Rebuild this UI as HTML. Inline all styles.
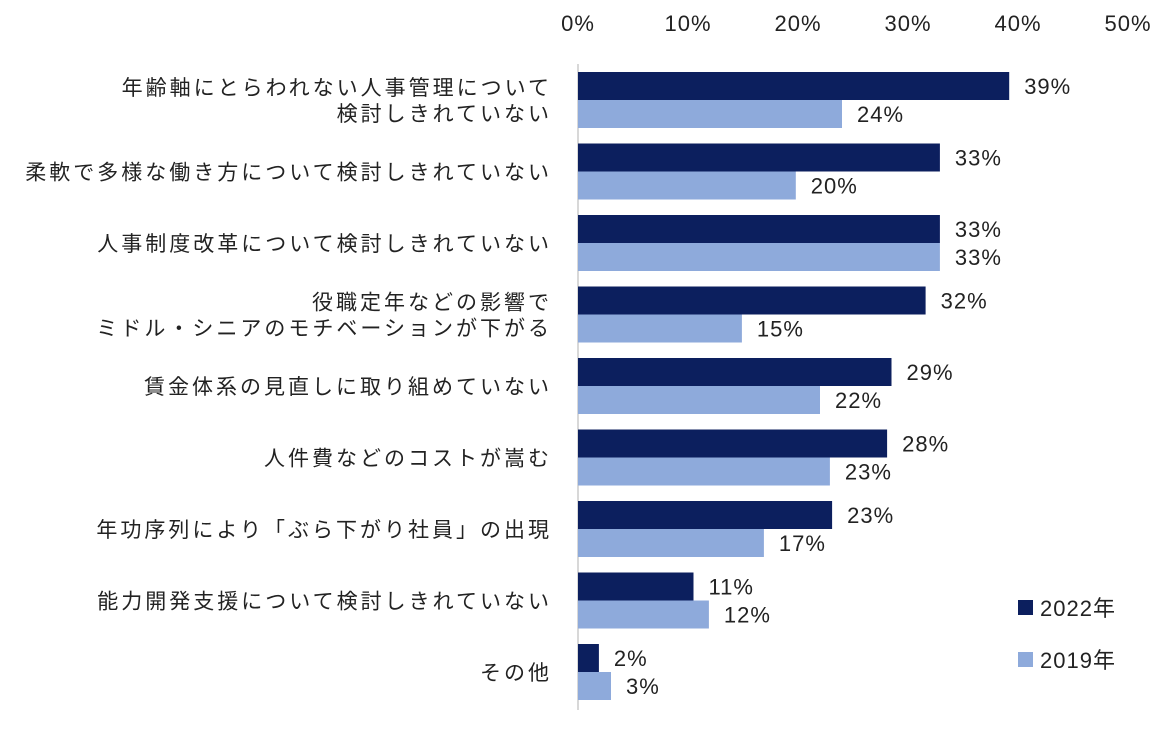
<!DOCTYPE html>
<html><head><meta charset="utf-8"><style>
body{margin:0;background:#fff;}
svg text{font-family:"Liberation Sans","Noto Sans CJK JP",sans-serif;fill:#222;}
</style></head><body>
<svg id="chart" width="1167" height="724" xmlns="http://www.w3.org/2000/svg"></svg>
<script>
const categories=[["年齢軸にとらわれない人事管理について","検討しきれていない"],["柔軟で多様な働き方について検討しきれていない"],["人事制度改革について検討しきれていない"],["役職定年などの影響で","ミドル・シニアのモチベーションが下がる"],["賃金体系の見直しに取り組めていない"],["人件費などのコストが嵩む"],["年功序列により「ぶら下がり社員」の出現"],["能力開発支援について検討しきれていない"],["その他"]];
const values2022=[39.2,32.9,32.9,31.6,28.5,28.1,23.1,10.5,1.9];
const values2019=[24.0,19.8,32.9,14.9,22.0,22.9,16.9,11.9,3.0];
const labels2022=["39%","33%","33%","32%","29%","28%","23%","11%","2%"];
const labels2019=["24%","20%","33%","15%","22%","23%","17%","12%","3%"];
const ticks=[0,10,20,30,40,50];
const seriesNames=["2022年","2019年"];
const NS="http://www.w3.org/2000/svg",svg=document.getElementById("chart");
const x=v=>578+v*11, yCat=i=>72+i*71.5, BH=28;
function mk(t,a,txt){const e=document.createElementNS(NS,t);for(const k in a)e.setAttribute(k,a[k]);if(txt!=null)e.textContent=txt;svg.appendChild(e);return e;}
ticks.forEach(t=>{const e=mk("text",{x:x(t),y:31,"font-size":22,"letter-spacing":1,"text-anchor":"middle"},t+"%");

});
const ax=mk("line",{x1:578,y1:64,x2:578,y2:710,stroke:"#ccc","stroke-width":1.5});


categories.forEach((c,i)=>{
 const y0=yCat(i);
 const b1=mk("rect",{x:x(0),y:y0,width:x(values2022[i])-x(0),height:BH,fill:"#0c1f5e"});
 
 
 const b2=mk("rect",{x:x(0),y:y0+BH,width:x(values2019[i])-x(0),height:BH,fill:"#8eaadb"});
 
 
 const l1=mk("text",{x:x(values2022[i])+15,y:y0+22,"font-size":22,"letter-spacing":1},labels2022[i]);
 
 
 const l2=mk("text",{x:x(values2019[i])+15,y:y0+BH+22,"font-size":22,"letter-spacing":1},labels2019[i]);
 
 
 const cy=y0+BH;
 c.forEach((line,j)=>{const t=mk("text",{x:552,y:cy+8+(j-(c.length-1)/2)*26,"font-size":21,"letter-spacing":3,"text-anchor":"end"},line);
 
 });
});
seriesNames.forEach((n,i)=>{const ly=600+i*52;
 const r=mk("rect",{x:1018,y:ly,width:15,height:15,fill:i?"#8eaadb":"#0c1f5e"});
 
 
 const t=mk("text",{x:1040,y:ly+16,"font-size":22,"letter-spacing":1},n);
 
 });
</script>
</body></html>
